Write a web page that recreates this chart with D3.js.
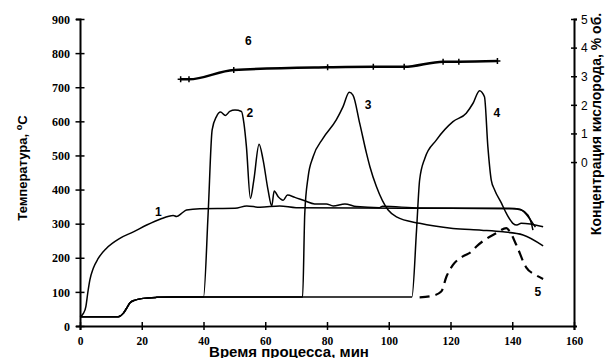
<!DOCTYPE html>
<html>
<head>
<meta charset="utf-8">
<script src="https://cdn.jsdelivr.net/npm/d3@7"></script>
<style>
  body { margin: 0; background: #fff; }
  svg { display: block; }
</style>
</head>
<body>
<div id="chart"></div>
<script>
// temperature curves, [time min, T °C]
const curve1 = [[0, 27], [1.1, 37], [1.9, 57], [2.5, 96], [3.2, 135], [4.3, 169], [5.9, 198], [8.6, 228],
  [12.9, 257], [17.3, 276], [21.6, 296], [25.9, 313], [30.2, 324], [31.3, 321], [32.9, 330], [34.5, 340],
  [38.8, 344], [50.2, 345], [54, 352], [58.3, 348], [64.7, 352], [70, 347], [90, 346], [120, 345],
  [140, 344], [142.9, 340], [145.1, 325], [146.2, 301], [146.7, 281]];

const baseline = [[0, 27], [12.4, 27], [14, 37], [15.1, 52], [16.2, 68], [17.8, 76], [20.5, 81], [24.8, 84], [30, 85]];

const curve2 = baseline.concat([[40, 85], [41.5, 330], [42.8, 575], [44.2, 614], [45.5, 627], [47.1, 617],
  [48.5, 629], [50.2, 633], [52.3, 629], [53.1, 594], [53.9, 526], [55.2, 374], [56.3, 428], [58, 533],
  [59.3, 487], [60.9, 399], [62.1, 352], [62.9, 396], [64.2, 379], [65.8, 369], [67.2, 384], [69.6, 377],
  [72.8, 367], [76, 358], [79.8, 358], [82, 352], [85.8, 358], [89.5, 350], [97, 347], [98, 351],
  [110, 346], [139, 345], [142.5, 342], [144.5, 328], [146.5, 303], [147.5, 290]]);

const curve3 = baseline.concat([[72.1, 85], [72.8, 330], [73.9, 438], [75.5, 496], [78.7, 550], [83, 604],
  [85.2, 643], [87.2, 685], [88.4, 677], [90.6, 594], [92.8, 506], [93.9, 467], [96, 409], [99.8, 340],
  [102.5, 320], [110, 301], [120.8, 286], [130, 281], [137, 276], [143.5, 267], [150, 235]]);

const curve4 = baseline.concat([[107.5, 85], [109, 281], [110, 428], [111.7, 492], [115.4, 545], [120.8, 599],
  [125.1, 624], [127.3, 653], [129.4, 690], [131, 672], [132.1, 526], [133.2, 428], [134.3, 399],
  [136.5, 360], [138.1, 330], [140.2, 301], [141.5, 296], [142.9, 301], [150, 291]]);

const curve5 = [[110, 84], [114, 88], [117, 101], [118.7, 145], [120.8, 179], [124, 204], [126.8, 218],
  [128.4, 233], [134.8, 272], [138.1, 287], [139.2, 277], [141.3, 238], [144.5, 172], [147.7, 149], [150, 138]];

// oxygen concentration, [time min, % vol]
const curve6 = [[32.6, 2.89], [35.3, 2.89], [49.8, 3.22], [80.2, 3.31], [95, 3.33], [105, 3.33],
  [117.6, 3.51], [122.7, 3.51], [135.2, 3.53]];

const curveLabels = [
  { text: "1", t: 25.4, v: 335 },
  { text: "2", t: 55, v: 625 },
  { text: "3", t: 93.3, v: 648 },
  { text: "4", t: 135, v: 625 },
  { text: "5", t: 148.3, v: 100 },
  { text: "6", t: 54.5, v: 835 }
];

const xTicks = [0, 20, 40, 60, 80, 100, 120, 140, 160];
const yTicks = [0, 100, 200, 300, 400, 500, 600, 700, 800, 900];
const y2Ticks = [0, 1, 2, 3, 4, 5];

const width = 605, height = 358;

const svg = d3.select("#chart").append("svg")
  .attr("width", width)
  .attr("height", height);

const x = d3.scaleLinear().domain([0, 160]).range([80, 574]);
const y = d3.scaleLinear().domain([0, 900]).range([326, 19]);
const y2 = d3.scaleLinear().domain([-5.73, 5]).range([326, 19]);

// axes
const xAxis = svg.append("g")
  .attr("transform", "translate(0,326)")
  .call(d3.axisBottom(x).tickValues(xTicks).tickSizeOuter(0).tickSize(4));
xAxis.selectAll(".tick line").attr("y1", -4).attr("y2", 4);
xAxis.selectAll(".tick text")
  .attr("y", 18.5).attr("dy", 0)
  .style("font-family", "'Liberation Serif', serif")
  .style("font-weight", "bold")
  .style("font-size", "11.5px");

const yAxis = svg.append("g")
  .attr("transform", "translate(80,0)")
  .call(d3.axisLeft(y).tickValues(yTicks).tickSizeOuter(0).tickSize(4));
yAxis.selectAll(".tick line").attr("x1", -4.5).attr("x2", 4.5);
yAxis.selectAll(".tick text")
  .attr("x", -10).attr("dy", "0.35em")
  .style("font-family", "'Liberation Serif', serif")
  .style("font-weight", "bold")
  .style("font-size", "12px");

const y2Axis = svg.append("g")
  .attr("transform", "translate(574,0)")
  .call(d3.axisRight(y2).tickValues(y2Ticks).tickSizeOuter(0).tickSize(3));
y2Axis.selectAll(".tick line").attr("x1", -3).attr("x2", 3);
y2Axis.selectAll(".tick text")
  .attr("x", 7).attr("dy", "0.35em")
  .style("font-family", "'Liberation Sans', Arial, sans-serif")
  .style("font-size", "12px");

svg.selectAll(".domain").attr("stroke", "#000").attr("stroke-width", 2);
svg.selectAll(".tick line").attr("stroke", "#000").attr("stroke-width", 1.5);
svg.selectAll(".tick text").attr("fill", "#000");

// axis titles
const titleFont = "'Liberation Sans', Arial, sans-serif";

svg.append("text")
  .attr("x", 289).attr("y", 357)
  .attr("text-anchor", "middle")
  .style("font-family", titleFont).style("font-weight", "bold").style("font-size", "15px")
  .text("Время процесса, мин");

const yTitle = svg.append("text")
  .attr("transform", "translate(27,168) rotate(-90)")
  .attr("text-anchor", "middle")
  .style("font-family", titleFont).style("font-weight", "bold").style("font-size", "13px");
yTitle.append("tspan").text("Температура, ");
yTitle.append("tspan").attr("dy", -5).style("font-size", "9px").text("o");
yTitle.append("tspan").attr("dy", 5).text("C");

svg.append("text")
  .attr("transform", "translate(601,124) rotate(-90)")
  .attr("text-anchor", "middle")
  .style("font-family", titleFont).style("font-weight", "bold").style("font-size", "14px")
  .text("Концентрация  кислорода, % об.");

// lines
const line = d3.line()
  .x(d => x(d[0]))
  .y(d => y(d[1]))
  .curve(d3.curveMonotoneX);

const line2 = d3.line()
  .x(d => x(d[0]))
  .y(d => y2(d[1]))
  .curve(d3.curveMonotoneX);

const plot = svg.append("g").attr("fill", "none").attr("stroke", "#000");

[curve1, curve2, curve3, curve4].forEach(c => {
  plot.append("path")
    .attr("d", line(c))
    .attr("stroke-width", 1.5);
});

plot.append("path")
  .attr("d", line(curve5))
  .attr("stroke-width", 2.2)
  .attr("stroke-dasharray", "10,6");

plot.append("path")
  .attr("d", line2(curve6))
  .attr("stroke-width", 2.5);

plot.selectAll(".marker")
  .data(curve6)
  .enter()
  .append("path")
  .attr("class", "marker")
  .attr("d", d => {
    const cx = x(d[0]), cy = y2(d[1]);
    return `M${cx - 3},${cy}H${cx + 3}M${cx},${cy - 3}V${cy + 3}`;
  })
  .attr("stroke-width", 1.5);

// curve numbers
svg.selectAll(".clabel")
  .data(curveLabels)
  .enter()
  .append("text")
  .attr("class", "clabel")
  .attr("x", d => x(d.t))
  .attr("y", d => y(d.v))
  .attr("text-anchor", "middle")
  .attr("dy", "0.35em")
  .style("font-family", titleFont)
  .style("font-weight", "bold")
  .style("font-size", "12px")
  .text(d => d.text);
</script>
</body>
</html>
